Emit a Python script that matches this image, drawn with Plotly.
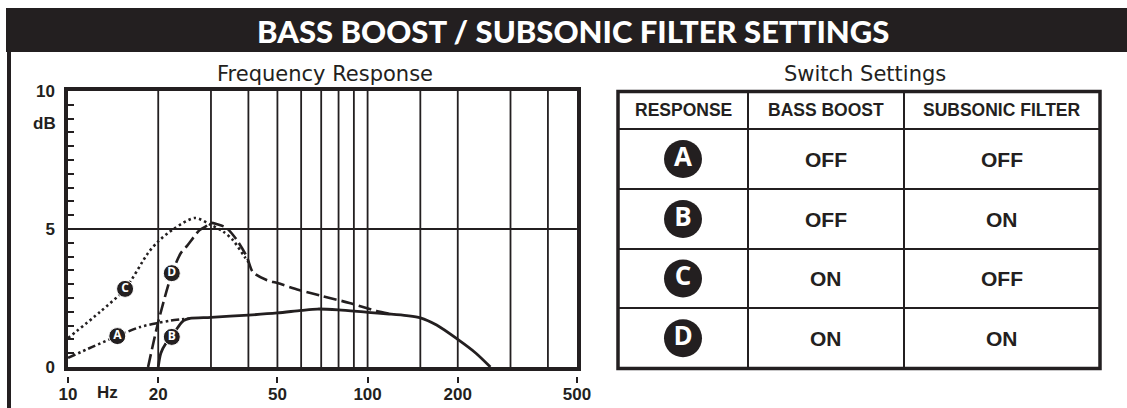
import numpy as np
import plotly.graph_objects as go

W, H = 1127, 408
INK = "#231f20"

# ---------------- data ----------------
grid_freqs = [20, 30, 40, 50, 60, 70, 80, 90, 100, 150, 200, 300, 400]
x_tick_freqs = [10, 20, 50, 100, 200, 500]
x_tick_labels = ["10", "20", "50", "100", "200", "500"]
y_label_vals = [0, 5, 10]
y_label_text = ["0", "5", "10"]

# Response A (bass boost off, subsonic off) - low end, dash-dot-dot
a_freq = [10, 12, 14.6, 17.4, 20, 22, 24, 25.5]
a_db = [0.33, 0.72, 1.12, 1.45, 1.6, 1.68, 1.73, 1.76]

# Response B (shared solid curve with A above ~25 Hz)
b_freq = [20, 20.4, 21.2, 22.2, 23.3, 24.3, 25.5, 30, 40, 50, 60, 68, 80, 100, 118,
          135, 150, 170, 200, 230, 257]
b_db = [0, 0.5, 0.85, 1.1, 1.45, 1.68, 1.76, 1.8, 1.88, 1.96, 2.05, 2.1, 2.07, 1.98,
        1.92, 1.86, 1.78, 1.52, 1.0, 0.5, 0]

# Response C (bass boost on, subsonic off) - dotted
c_freq = [10, 12.8, 15.5, 18.5, 20, 22.5, 26.5, 30, 33, 35.5, 38.8, 40]
c_db = [1.05, 2.0, 2.83, 4.13, 4.55, 5.0, 5.4, 5.15, 4.9, 4.6, 4.0, 3.8]

# Response D (bass boost on, subsonic on) - dashed
d_freq = [18.5, 20, 22.2, 23.8, 25.0, 27.5, 29.3, 30, 31.5, 33.8, 36.6, 39.5, 41.4,
          46, 50, 59, 70, 87, 107, 120]
d_db = [0, 1.63, 3.37, 4.13, 4.4, 4.96, 5.14, 5.22, 5.17, 5.04, 4.6, 4.0, 3.44,
        3.15, 3.04, 2.79, 2.58, 2.32, 2.03, 1.92]

label_letters = ["A", "B", "C", "D"]
label_freq = [14.6, 22.2, 15.5, 22.2]
label_db = [1.12, 1.09, 2.83, 3.4]

table_header = ["RESPONSE", "BASS BOOST", "SUBSONIC FILTER"]
responses = ["A", "B", "C", "D"]
bass_boost = ["OFF", "OFF", "ON", "ON"]
subsonic_filter = ["OFF", "ON", "OFF", "ON"]

# ---------------- layout geometry (pixels) ----------------
PL, PR, PT, PB = 68, 577, 91, 367
TBL_X = [618, 748, 904, 1100]
TBL_Y = [91.5, 129, 189, 249, 308, 368.5]


def fx(px):
    return px / W


def fy(py):
    return 1 - py / H


fig = go.Figure()

# grid lines
gx, gy = [], []
for f in grid_freqs:
    gx += [f, f, None]
    gy += [0, 10, None]
fig.add_trace(go.Scatter(x=gx, y=gy, mode="lines", line=dict(color=INK, width=1.8),
                         hoverinfo="skip", showlegend=False))
fig.add_trace(go.Scatter(x=[10, 500], y=[5, 5], mode="lines", line=dict(color=INK, width=1.8),
                         hoverinfo="skip", showlegend=False))

# curves
fig.add_trace(go.Scatter(x=c_freq, y=c_db, mode="lines", name="C",
                         line=dict(color=INK, width=2.6, dash="2.5px,3px", shape="spline", smoothing=0.8),
                         showlegend=False))
fig.add_trace(go.Scatter(x=d_freq, y=d_db, mode="lines", name="D",
                         line=dict(color=INK, width=2.6, dash="13px,5px", shape="spline", smoothing=0.8),
                         showlegend=False))
fig.add_trace(go.Scatter(x=a_freq, y=a_db, mode="lines", name="A",
                         line=dict(color=INK, width=2.6, dash="8px,3px,2.5px,3px,2.5px,3px",
                                   shape="spline", smoothing=0.8),
                         showlegend=False))
fig.add_trace(go.Scatter(x=b_freq, y=b_db, mode="lines", name="B",
                         line=dict(color=INK, width=2.8, shape="spline", smoothing=0.8),
                         showlegend=False))

# curve labels
fig.add_trace(go.Scatter(x=label_freq, y=label_db, mode="markers+text", text=label_letters,
                         textposition="middle center",
                         marker=dict(size=17, color=INK, line=dict(color="white", width=1)),
                         textfont=dict(family="Open Sans", size=12, color="white", weight="bold"),
                         hoverinfo="skip", showlegend=False, cliponaxis=False))

# dummy trace for x2 axis (tick labels below the chart)
fig.add_trace(go.Scatter(x=x_tick_freqs, y=[None] * len(x_tick_freqs), xaxis="x2", yaxis="y",
                         mode="markers", hoverinfo="skip", showlegend=False))

# table circles on pixel overlay axes
col_c = [(TBL_X[i] + TBL_X[i + 1]) / 2 for i in range(3)]
row_c = [(TBL_Y[i] + TBL_Y[i + 1]) / 2 for i in range(1, 5)]
fig.add_trace(go.Scatter(x=[col_c[0]] * len(responses), y=row_c, mode="markers+text",
                         text=responses, textposition="middle center",
                         marker=dict(size=38, color=INK),
                         textfont=dict(family="Open Sans", size=26, color="white", weight="bold"),
                         xaxis="x3", yaxis="y3", hoverinfo="skip", showlegend=False))

shapes = []
# header bar and left rule
shapes.append(dict(type="rect", xref="x3", yref="y3", x0=6, x1=W, y0=8, y1=52,
                   fillcolor=INK, line=dict(width=0), layer="below"))
shapes.append(dict(type="rect", xref="x3", yref="y3", x0=7, x1=11, y0=52, y1=H,
                   fillcolor=INK, line=dict(width=0), layer="below"))
# table
shapes.append(dict(type="rect", xref="x3", yref="y3", x0=TBL_X[0], x1=TBL_X[-1], y0=TBL_Y[0], y1=TBL_Y[-1],
                   line=dict(color=INK, width=3.5), layer="above"))
for xv in TBL_X[1:-1]:
    shapes.append(dict(type="line", xref="x3", yref="y3", x0=xv, x1=xv, y0=TBL_Y[0], y1=TBL_Y[-1],
                       line=dict(color=INK, width=2)))
for yv in TBL_Y[1:-1]:
    shapes.append(dict(type="line", xref="x3", yref="y3", x0=TBL_X[0], x1=TBL_X[-1], y0=yv, y1=yv,
                       line=dict(color=INK, width=2)))

annotations = []
annotations.append(dict(text="BASS BOOST / SUBSONIC FILTER SETTINGS", x=573, y=31, xref="x3", yref="y3",
                        showarrow=False, font=dict(family="Lato", size=31, color="white", weight=900)))
annotations.append(dict(text="Frequency Response", x=325, y=74, xref="x3", yref="y3", showarrow=False,
                        font=dict(family="DejaVu Sans", size=21, color=INK)))
annotations.append(dict(text="Switch Settings", x=865, y=74, xref="x3", yref="y3", showarrow=False,
                        font=dict(family="DejaVu Sans", size=21, color=INK)))
annotations.append(dict(text="dB", x=58, y=123, xref="x3", yref="y3", showarrow=False, xanchor="right",
                        font=dict(family="Liberation Sans", size=17, color=INK, weight="bold")))
annotations.append(dict(text="Hz", x=107, y=392, xref="x3", yref="y3", showarrow=False,
                        font=dict(family="Liberation Sans", size=17, color=INK, weight="bold")))
hy = (TBL_Y[0] + TBL_Y[1]) / 2
for i, t in enumerate(table_header):
    annotations.append(dict(text=t, x=col_c[i], y=hy, xref="x3", yref="y3", showarrow=False,
                            font=dict(family="Liberation Sans", size=17.5, color=INK, weight="bold")))
for r in range(len(responses)):
    for j, vals in enumerate([bass_boost, subsonic_filter]):
        annotations.append(dict(text=vals[r], x=col_c[j + 1], y=row_c[r], xref="x3", yref="y3",
                                showarrow=False,
                                font=dict(family="Liberation Sans", size=21, color=INK, weight="bold")))

xr = [np.log10(9.995), np.log10(500.2)]
y_tick_pos = list(np.arange(0, 10.01, 0.5))
y_tick_txt = [y_label_text[y_label_vals.index(v)] if v in y_label_vals else "" for v in y_tick_pos]

fig.update_layout(
    width=W, height=H, autosize=False,
    margin=dict(l=0, r=0, t=0, b=0, pad=0, autoexpand=False),
    paper_bgcolor="white", plot_bgcolor="rgba(0,0,0,0)",
    showlegend=False,
    xaxis=dict(type="log", range=xr, domain=[fx(PL), fx(PR)], anchor="y", automargin=False,
               showline=True, mirror=True, linewidth=3.5, linecolor=INK,
               ticks="", showticklabels=False, showgrid=False, zeroline=False),
    yaxis=dict(range=[0, 10], domain=[fy(PB), fy(PT)], anchor="x", automargin=False,
               showline=True, mirror=True, linewidth=3.5, linecolor=INK,
               tickmode="array", tickvals=y_tick_pos, ticktext=y_tick_txt,
               ticks="inside", ticklen=6, tickwidth=2, tickcolor=INK,
               ticklabelstandoff=6,
               tickfont=dict(family="Liberation Sans", size=17, color=INK, weight="bold"),
               showgrid=False, zeroline=False),
    xaxis2=dict(type="log", range=xr, overlaying="x", anchor="free", position=fy(376), automargin=False,
                tickmode="array", tickvals=x_tick_freqs, ticktext=x_tick_labels,
                ticks="outside", ticklen=6, tickwidth=2, tickcolor=INK, ticklabelstandoff=-3,
                tickfont=dict(family="Liberation Sans", size=17, color=INK, weight="bold"),
                showline=False, showgrid=False, zeroline=False),
    xaxis3=dict(range=[0, W], domain=[0, 1], anchor="y3", visible=False, fixedrange=True, automargin=False),
    yaxis3=dict(range=[H, 0], domain=[0, 1], anchor="x3", visible=False, fixedrange=True, automargin=False),
    shapes=shapes,
    annotations=annotations,
)

fig.write_html("out.html", config={"displayModeBar": False},
               post_script="document.body.style.margin='0';document.body.style.overflow='hidden';")
